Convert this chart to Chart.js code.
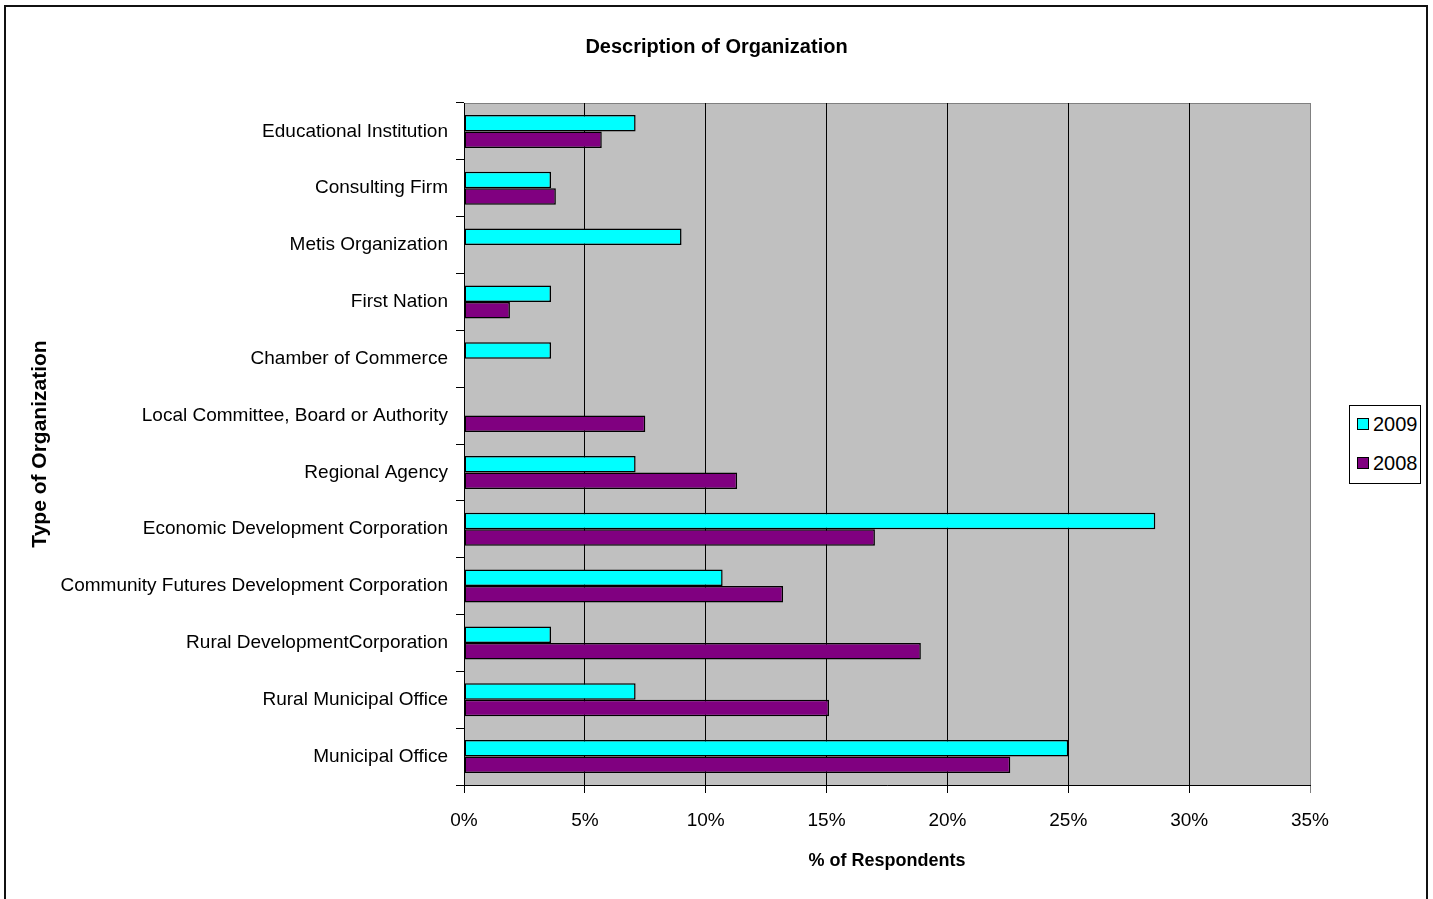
<!DOCTYPE html>
<html>
<head>
<meta charset="utf-8">
<script src="https://cdn.jsdelivr.net/npm/chart.js@4.4.1/dist/chart.umd.min.js"></script>
<style>
  html, body { margin: 0; padding: 0; background: #fff; overflow: hidden; }
  #wrap { position: relative; width: 1433px; height: 899px; }
  #legend {
    position: absolute; left: 1349px; top: 405px; width: 70px; height: 77px;
    border: 1px solid #000; background: #fff;
    font-family: "Liberation Sans", Arial, sans-serif; font-size: 20px; color: #000;
  }
  #legend .item { position: absolute; left: 7px; height: 22px; line-height: 22px; }
  #legend .sw { display: inline-block; width: 10px; height: 10px; border: 1px solid #000; vertical-align: middle; margin-right: 4px; position: relative; top: -2px; }
</style>
</head>
<body>
<div id="wrap">
  <canvas id="chart" width="1433" height="899"></canvas>
  <div id="legend">
    <div class="item" style="top:7px"><span class="sw" style="background:#00FFFF"></span>2009</div>
    <div class="item" style="top:46px"><span class="sw" style="background:#800080"></span>2008</div>
  </div>
</div>
<script>
const categories = [
  "Educational Institution",
  "Consulting Firm",
  "Metis Organization",
  "First Nation",
  "Chamber of Commerce",
  "Local Committee, Board or Authority",
  "Regional Agency",
  "Economic Development Corporation",
  "Community Futures Development Corporation",
  "Rural DevelopmentCorporation",
  "Rural Municipal Office",
  "Municipal Office"
];

// percent of respondents
const values2009 = [7.1, 3.6, 9.0, 3.6, 3.6, null, 7.1, 28.6, 10.7, 3.6, 7.1, 25.0];
const values2008 = [5.7, 3.8, null, 1.9, null, 7.5, 11.3, 17.0, 13.2, 18.9, 15.1, 22.6];

const xTicks = [0, 5, 10, 15, 20, 25, 30, 35];

const sans = '"Liberation Sans", Arial, sans-serif';

const frameAndBackground = {
  id: "frameAndBackground",
  beforeDraw(chart) {
    const { ctx, chartArea: a } = chart;
    ctx.save();
    ctx.fillStyle = "#C0C0C0";
    ctx.fillRect(a.left, a.top, a.right - a.left, a.bottom - a.top);
    ctx.strokeStyle = "#808080";
    ctx.lineWidth = 1;
    ctx.strokeRect(a.left + 0.5, a.top + 0.5, a.right - a.left, a.bottom - a.top);
    ctx.restore();
  },
  afterDraw(chart) {
    const ctx = chart.ctx;
    ctx.save();
    ctx.strokeStyle = "#111";
    ctx.lineWidth = 2;
    ctx.strokeRect(5, 6, 1422, 1000);
    ctx.restore();
  }
};

new Chart(document.getElementById("chart"), {
  type: "bar",
  data: {
    labels: categories,
    datasets: [
      {
        label: "2009",
        data: values2009,
        backgroundColor: "#00FFFF",
        borderColor: "#000",
        borderWidth: 1.5,
        borderSkipped: false
      },
      {
        label: "2008",
        data: values2008,
        backgroundColor: "#800080",
        borderColor: "#000",
        borderWidth: 1.5,
        borderSkipped: false
      }
    ]
  },
  options: {
    indexAxis: "y",
    responsive: false,
    animation: false,
    categoryPercentage: 0.58,
    barPercentage: 1,
    layout: { padding: 0 },
    plugins: {
      legend: { display: false },
      tooltip: { enabled: false },
      title: {
        display: true,
        text: "Description of Organization",
        color: "#000",
        font: { family: sans, size: 20, weight: "bold" },
        padding: { top: 35, bottom: 44 }
      }
    },
    scales: {
      x: {
        min: 0,
        max: 35,
        afterBuildTicks(scale) {
          scale.ticks = xTicks.map(v => ({ value: v }));
        },
        afterFit(scale) { scale.height = 899 - 785; },
        ticks: {
          color: "#000",
          font: { family: sans, size: 19 },
          padding: 16,
          maxRotation: 0,
          callback: v => v + "%"
        },
        grid: {
          color: c => (c.tick && c.tick.value === 35 ? "#808080" : "#000"),
          lineWidth: 1,
          tickLength: 8
        },
        border: { color: "#000", width: 1 },
        title: {
          display: true,
          text: "% of Respondents",
          color: "#000",
          font: { family: sans, size: 18, weight: "bold" },
          padding: { top: 0, bottom: 27 }
        }
      },
      y: {
        afterFit(scale) { scale.width = 464; },
        ticks: {
          color: "#000",
          font: { family: sans, size: 19 },
          padding: 8
        },
        grid: {
          drawOnChartArea: false,
          color: "#000",
          tickLength: 8
        },
        border: { color: "#000", width: 1 },
        title: {
          display: true,
          text: "Type of Organization",
          color: "#000",
          font: { family: sans, size: 21, weight: "bold" },
          padding: { top: 28, bottom: 0 }
        }
      },
      // empty right-hand strip that leaves room for the legend
      legendSpace: {
        type: "linear",
        position: "right",
        afterFit(scale) { scale.width = 1433 - 1310; },
        ticks: { display: false },
        grid: { display: false },
        border: { display: false }
      }
    }
  },
  plugins: [frameAndBackground]
});
</script>
</body>
</html>
